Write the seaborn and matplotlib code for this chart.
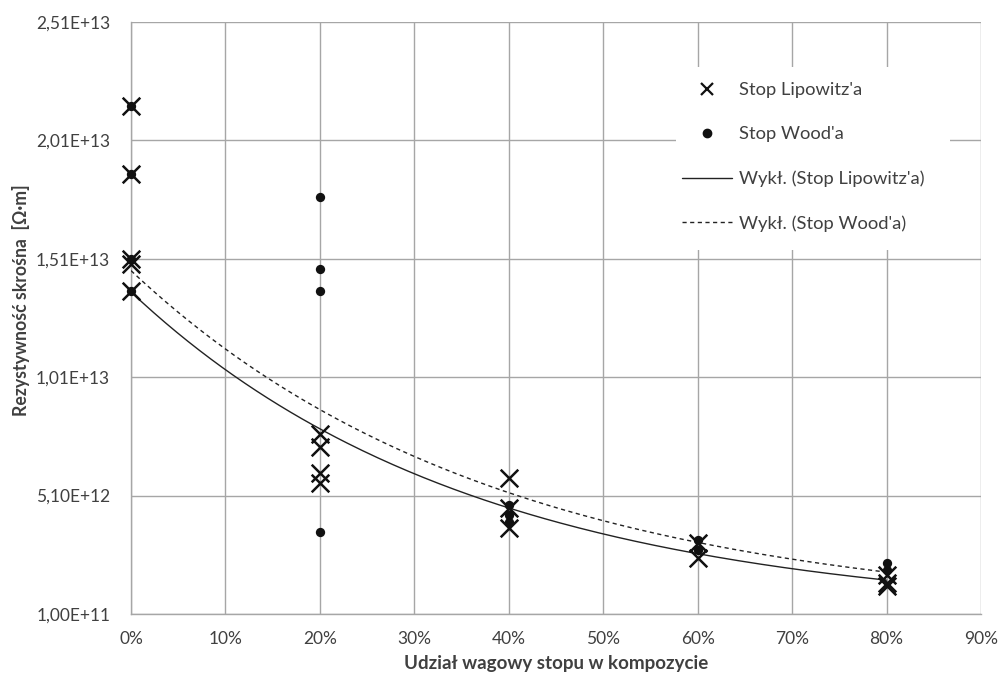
import numpy as np
import pandas as pd
import matplotlib
matplotlib.use("Agg")
import matplotlib.pyplot as plt
import seaborn as sns
from matplotlib.lines import Line2D
from matplotlib.patches import Rectangle

# ---- data ----
lip_x = [0.0, 0.0, 0.0, 0.0, 0.0, 0.2, 0.2, 0.2, 0.2, 0.4, 0.4, 0.4, 0.6, 0.6, 0.8, 0.8, 0.8]
lip_y = [2.156e13, 1.869e13, 1.51e13, 1.49e13, 1.372e13,
         7.69e12, 7.15e12, 6.04e12, 5.62e12,
         5.83e12, 4.57e12, 3.73e12,
         3.09e12, 2.46e12,
         1.74e12, 1.41e12, 1.28e12]
wood_x = [0.0, 0.0, 0.0, 0.0, 0.2, 0.2, 0.2, 0.2, 0.4, 0.4, 0.4, 0.6, 0.6, 0.8, 0.8]
wood_y = [2.156e13, 1.869e13, 1.51e13, 1.372e13,
          1.769e13, 1.466e13, 1.372e13, 3.57e12,
          4.70e12, 4.27e12, 4.00e12,
          3.22e12, 2.80e12,
          2.25e12, 1.96e12]
# exponential trend lines (y = a * exp(b * x)) as shown in the chart
lip_trend = (1.37e13, -2.74)
wood_trend = (1.46e13, -2.57)

y_ticks = [1.00e11, 5.10e12, 1.01e13, 1.51e13, 2.01e13, 2.51e13]
y_tick_labels = ["1,00E+11", "5,10E+12", "1,01E+13", "1,51E+13", "2,01E+13", "2,51E+13"]
x_ticks = [0.0, 0.1, 0.2, 0.3, 0.4, 0.5, 0.6, 0.7, 0.8, 0.9]
x_tick_labels = ["0%", "10%", "20%", "30%", "40%", "50%", "60%", "70%", "80%", "90%"]

series_names = ["Stop Lipowitz'a", "Stop Wood'a",
                "Wykł. (Stop Lipowitz'a)", "Wykł. (Stop Wood'a)"]
x_label = "Udział wagowy stopu w kompozycie"
y_label = "Rezystywność skrośna  [Ω·m]"

# ---- style ----
sns.set_style("white")
plt.rcParams['font.family'] = ['Lato', 'DejaVu Sans']
GRID = "#a6a6a6"
TXT = "#404040"
W, H = 998, 677
X0, X1, Y0, Y1 = 131, 981, 22, 614

fig = plt.figure(figsize=(W / 100, H / 100), dpi=100)
ax = fig.add_axes([X0 / W, 1 - Y1 / H, (X1 - X0) / W, (Y1 - Y0) / H])

# trend lines
xs = np.linspace(0, 0.8, 200)
lip_trend_df = pd.DataFrame({"x": xs, "y": lip_trend[0] * np.exp(lip_trend[1] * xs)})
wood_trend_df = pd.DataFrame({"x": xs, "y": wood_trend[0] * np.exp(wood_trend[1] * xs)})
sns.lineplot(data=lip_trend_df, x="x", y="y", ax=ax,
             color="#222222", linewidth=1.0, legend=False, zorder=3)
sns.lineplot(data=wood_trend_df, x="x", y="y", ax=ax,
             color="#222222", linewidth=1.0, linestyle=(0, (3, 2.5)), legend=False, zorder=3)

# scatter points
wood_df = pd.DataFrame({"x": wood_x, "y": wood_y})
lip_df = pd.DataFrame({"x": lip_x, "y": lip_y})
sns.scatterplot(data=wood_df, x="x", y="y", ax=ax, marker="o", s=45,
                color="#111111", edgecolor="#111111", linewidth=0, zorder=4, clip_on=False)
sns.scatterplot(data=lip_df, x="x", y="y", ax=ax, marker="x", s=160,
                color="#111111", linewidth=1.8, zorder=5, clip_on=False)

ax.set_xlim(0, 0.9)
ax.set_ylim(1.0e11, 2.51e13)
ax.set_xticks(x_ticks)
ax.set_xticklabels(x_tick_labels)
ax.set_yticks(y_ticks)
ax.set_yticklabels(y_tick_labels)
ax.grid(True, color=GRID, linewidth=1.0)
ax.set_axisbelow(True)
for side in ["top", "right"]:
    ax.spines[side].set_visible(False)
for side in ["left", "bottom"]:
    ax.spines[side].set_color(GRID)
    ax.spines[side].set_linewidth(1.0)
ax.tick_params(axis="both", length=4, width=1.0, color=GRID, labelsize=12.5,
               labelcolor=TXT, direction="out")
ax.tick_params(axis="x", pad=8)
ax.tick_params(axis="y", pad=11)

ax.set_xlabel(x_label, fontsize=13.5, fontweight="bold", color=TXT, labelpad=6)
ax.set_ylabel(y_label, fontsize=12.7, fontweight="bold", color=TXT)
ax.yaxis.set_label_coords((21 - X0) / (X1 - X0), (Y1 - 300) / (Y1 - Y0))
ax.yaxis.label.set_va("center")

# white legend area (covers gridlines like the reference)
ax.add_patch(Rectangle(((676 - X0) / (X1 - X0), (Y1 - 250) / (Y1 - Y0)),
                       (950 - 676) / (X1 - X0), (250 - 67) / (Y1 - Y0),
                       transform=ax.transAxes, facecolor="white", edgecolor="none", zorder=1))

handles = [
    Line2D([], [], linestyle="none", marker="x", markersize=9, markeredgewidth=1.6, color="#111111"),
    Line2D([], [], linestyle="none", marker="o", markersize=6, color="#111111"),
    Line2D([], [], color="#222222", linewidth=1.0),
    Line2D([], [], color="#222222", linewidth=1.0, linestyle=(0, (3, 2.5))),
]
leg = ax.legend(handles, series_names, loc="center left",
                bbox_to_anchor=((676 - X0) / (X1 - X0), (Y1 - 157) / (Y1 - Y0)),
                frameon=False, fontsize=13.2, handlelength=2.73, handletextpad=0.38,
                labelspacing=1.54, borderpad=0.35, borderaxespad=0)
for t in leg.get_texts():
    t.set_color(TXT)

fig.savefig("out.png", dpi=100, facecolor="white")
